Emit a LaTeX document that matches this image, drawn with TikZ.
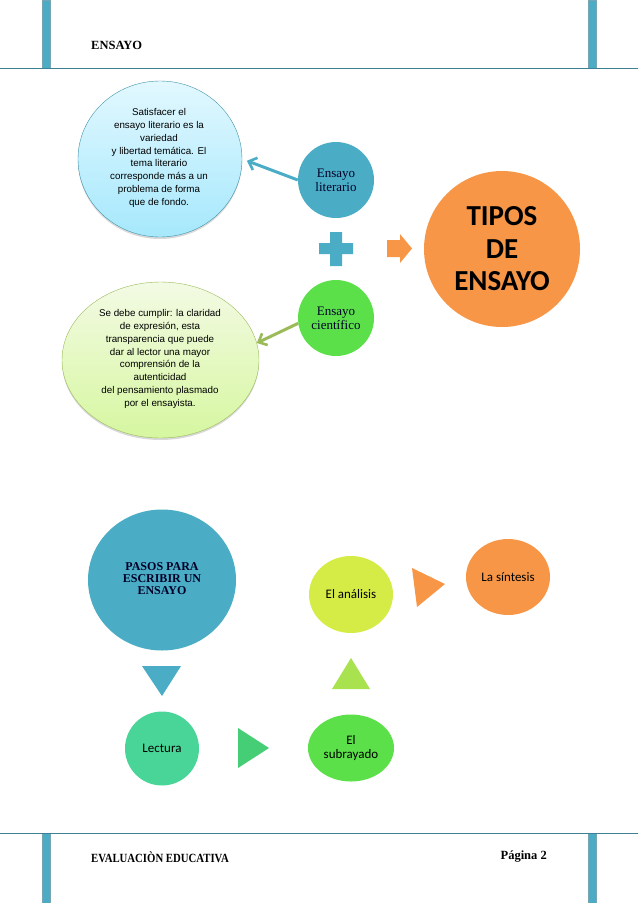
\documentclass[tikz,border=0pt]{standalone}
\usepackage{fontspec}
\setmainfont{Liberation Serif}
\newfontfamily\arialfont{Liberation Sans}
\newfontfamily\carlitofont{Carlito}
\newfontfamily\footfont[FakeStretch=0.86]{Liberation Serif}
\usetikzlibrary{arrows.meta,shadows,shapes.geometric}
\definecolor{bluefill}{HTML}{4BACC6}
\definecolor{barline}{HTML}{3F7F93}
\definecolor{orangefill}{HTML}{F79646}
\definecolor{greenfill}{HTML}{5CE04A}
\definecolor{mintfill}{HTML}{48D597}
\definecolor{limefill}{HTML}{D5EC47}
\definecolor{olivefill}{HTML}{9BBB59}
\definecolor{jadefill}{HTML}{45CE75}
\definecolor{applefill}{HTML}{A9E24F}
\definecolor{skytop}{HTML}{E2F8FF}
\definecolor{skybottom}{HTML}{A6E8FC}
\definecolor{leaftop}{HTML}{F3FAE4}
\definecolor{leafbottom}{HTML}{D6F7A0}
\tikzstyle{blob} = [ellipse,inner sep=0pt,align=center]
\tikzstyle{serifnote} = [font=\fontsize{13}{14}\selectfont,text=black!85!blue]
\tikzstyle{calibrinote} = [font=\carlitofont\fontsize{13}{14}\selectfont]
\tikzstyle{bubbletext} = [font=\arialfont\fontsize{9.8}{12.8}\selectfont,align=center]
\tikzstyle{headtext} = [font=\footfont\bfseries\fontsize{12.5}{13}\selectfont,inner sep=0pt]
\tikzstyle{arrowdecorate} = [line width=3pt,shorten >=5pt,-{Straight Barb[length=7pt,width=13pt,line width=2.6pt]}]
\begin{document}
\begin{tikzpicture}[x=1pt,y=-1pt]
      \useasboundingbox (0,0) rectangle (638,903);
      %page frame
      \foreach \x/\ya/\yb in {42/0/68, 588/0/68, 42/833/903, 588/833/903}
      {
        \fill[bluefill,draw=barline!70,line width=0.4pt] (\x,\ya) rectangle (\x+8,\yb);
      };
      \draw[barline,line width=1pt] (0,68) -- (638,68);
      \draw[barline,line width=1pt] (0,833) -- (638,833);
      \node[font=\bfseries\fontsize{12.5}{13}\selectfont,inner sep=0pt,anchor=west] (header) at (91,45) {ENSAYO};
      \node[headtext,anchor=west] (footer) at (91,857) {EVALUACIÒN EDUCATIVA};
      \node[font=\bfseries\fontsize{12.5}{13}\selectfont,inner sep=0pt,anchor=east] (page) at (547,857) {Página 2};
      %bubbles
      \node[blob,minimum width=164pt,minimum height=156pt,draw=bluefill!85!black,top color=skytop,bottom color=skybottom,
        drop shadow={opacity=0.3,shadow xshift=0pt,shadow yshift=-2pt}] (bubble) at (160,159) {};
      \node[bubbletext] (bubbletxt) at (159,158) {Satisfacer el\\ensayo literario es la\\variedad\\y libertad temática. El\\tema literario\\corresponde más a un\\problema de forma\\que de fondo.};
      \node[blob,minimum width=197pt,minimum height=156pt,draw=olivefill,top color=leaftop,bottom color=leafbottom,
        drop shadow={opacity=0.3,shadow xshift=0pt,shadow yshift=-2pt}] (cloud) at (160.5,360) {};
      \node[bubbletext] (cloudtxt) at (160,359) {Se debe cumplir: la claridad\\de expresión, esta\\transparencia que puede\\dar al lector una mayor\\comprensión de la\\autenticidad\\del pensamiento plasmado\\por el ensayista.};
      %nodes
      \foreach \nodename/\x/\y/\wid/\hei/\tone/\look/\txt in {
        lit/336/180/76/76/bluefill/serifnote/{Ensayo\\literario},
        sci/336/318/76/76/greenfill/serifnote/{Ensayo\\científico},
        lect/162/748.5/74/74/mintfill/calibrinote/{Lectura},
        sub/351/748/86/67/greenfill/calibrinote/{El\\subrayado},
        anal/351/594.5/84/77/limefill/calibrinote/{El análisis},
        sint/508/577/84/76/orangefill/calibrinote/{La síntesis}}
      {
        \node[blob,\look,fill=\tone,minimum width=\wid pt,minimum height=\hei pt] (\nodename) at (\x,\y) {\txt};
      };
      \node[blob,fill=orangefill,minimum width=156pt,minimum height=156pt,font=\carlitofont\bfseries\fontsize{29}{32.5}\selectfont] (tipos) at (502,249) {TIPOS\\DE\\ENSAYO};
      \node[blob,fill=bluefill,minimum width=148pt,minimum height=141pt] (pasos) at (162,580) {};
      \node[font=\bfseries\fontsize{12}{12}\selectfont,text=black!85!blue,align=center,inner sep=0pt] (pasostxt) at (162,579) {PASOS PARA\\ESCRIBIR UN\\ENSAYO};
      %edges
      \draw[arrowdecorate,bluefill] (lit.west) -- (bubble.east);
      \draw[arrowdecorate,olivefill,shorten >=0pt] (sci.188) -- (cloud.10);
      %signs
      \fill[bluefill] (330,232) -- (342,232) -- (342,243) -- (353,243) -- (353,254) -- (342,254)
        -- (342,266) -- (330,266) -- (330,254) -- (319,254) -- (319,243) -- (330,243) -- cycle;
      \fill[orangefill] (387,240) -- (400,240) -- (400,234) -- (412,248.5) -- (400,263) -- (400,257) -- (387,257) -- cycle;
      \foreach \xa/\ya/\xb/\yb/\xc/\yc/\tone in {
        142/666/181/666/162/696/bluefill,
        238/728/269/748/238/768/jadefill,
        332/689/370/689/351/658/applefill,
        412/568/445/584/417/607/orangefill}
      {
        \fill[\tone] (\xa,\ya) -- (\xb,\yb) -- (\xc,\yc) -- cycle;
      };
    \end{tikzpicture}
\end{document}
